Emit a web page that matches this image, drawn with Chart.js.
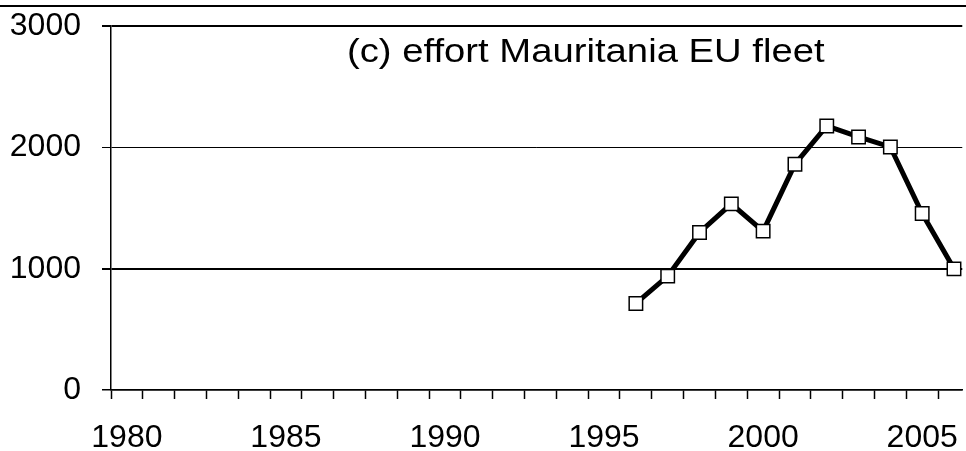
<!DOCTYPE html>
<html lang="en">
  <head>
    <meta charset="UTF-8" />
    <title>Effort Mauritania EU fleet</title>
    <script src="https://cdn.jsdelivr.net/npm/chart.js"></script>
    <style>
      body {
        margin: 0;
        background: #ffffff;
        font-family: "Liberation Sans", Arial, sans-serif;
      }
      .wrap {
        position: relative;
        width: 966px;
        height: 451px;
        overflow: hidden;
      }
      /* el lienzo es algo mayor para compensar el relleno automatico */
      .canvas-box {
        position: absolute;
        left: 0;
        top: -14px;
        width: 974px;
        height: 465px;
      }
      .topline {
        position: absolute;
        left: 0;
        top: 5px;
        width: 966px;
        border-top: 2px solid #000;
      }
      .title {
        position: absolute;
        left: 347px;
        top: 30px;
        font-size: 34px;
        line-height: 40px;
        color: #000;
        white-space: nowrap;
        transform-origin: left center;
        transform: scaleX(1.125);
      }
    </style>
  </head>
  <body>
    <div class="wrap">
      <div class="canvas-box"><canvas id="effortChart"></canvas></div>
      <div class="topline"></div>
      <div class="title">(c) effort Mauritania EU fleet</div>
    </div>

    <script>
      // valores
      const years = [1996, 1997, 1998, 1999, 2000, 2001, 2002, 2003, 2004, 2005, 2006];
      const effort = [714, 939, 1299, 1535, 1310, 1862, 2177, 2087, 2004, 1455, 999];
      const labelYears = [1980, 1985, 1990, 1995, 2000, 2005];
      const yTicks = [0, 1000, 2000, 3000];

      // marcas del eje x entre categorias (1979.5, 1980.5, ...) y centros
      const xTicks = [];
      for (let v = 1979.5; v <= 2006; v += 0.5) xTicks.push(v);

      const gridWidth = { 0: 1.5, 1000: 2, 2000: 1, 3000: 2 };

      const ctx = document.getElementById("effortChart").getContext("2d");
      new Chart(ctx, {
        type: "line",
        data: {
          datasets: [
            {
              data: years.map((y, i) => ({ x: y, y: effort[i] })),
              borderColor: "#000",
              borderWidth: 5,
              tension: 0,
              pointStyle: "rect",
              pointRadius: 9.5,
              pointBorderWidth: 1.5,
              pointBackgroundColor: "#fff",
              pointBorderColor: "#000",
            },
          ],
        },
        options: {
          responsive: true,
          maintainAspectRatio: false,
          animation: false,
          layout: { autoPadding: false, padding: { top: 26, left: 0, right: 0, bottom: 0 } },
          plugins: { legend: { display: false }, tooltip: { enabled: false } },
          scales: {
            x: {
              type: "linear",
              min: 1979.5,
              max: 2006.26,
              afterBuildTicks: (s) => {
                s.ticks = xTicks.map((v) => ({ value: v }));
              },
              afterFit: (s) => {
                s.height = 61;
              },
              border: { color: "#000", width: 1.5 },
              grid: {
                drawOnChartArea: false,
                drawTicks: true,
                tickLength: 9,
                tickWidth: 1.5,
                tickColor: (c) =>
                  Number.isInteger(c.tick.value) ? "rgba(0,0,0,0)" : "#000",
              },
              ticks: {
                autoSkip: false,
                maxRotation: 0,
                minRotation: 0,
                padding: 20,
                color: "#000",
                font: { family: "'Liberation Sans', Arial", size: 32 },
                callback: (v) => (labelYears.includes(v) ? String(v) : ""),
              },
            },
            y: {
              min: 0,
              max: 3000,
              afterBuildTicks: (s) => {
                s.ticks = yTicks.map((v) => ({ value: v }));
              },
              afterFit: (s) => {
                s.width = 111;
              },
              border: { color: "#000", width: 1.5 },
              grid: {
                color: "#000",
                lineWidth: (c) => gridWidth[c.tick.value] || 1,
                tickLength: 9,
              },
              ticks: {
                padding: 21,
                color: "#000",
                font: { family: "'Liberation Sans', Arial", size: 32 },
                callback: (v) => String(v),
              },
            },
          },
        },
      });
    </script>
  </body>
</html>
